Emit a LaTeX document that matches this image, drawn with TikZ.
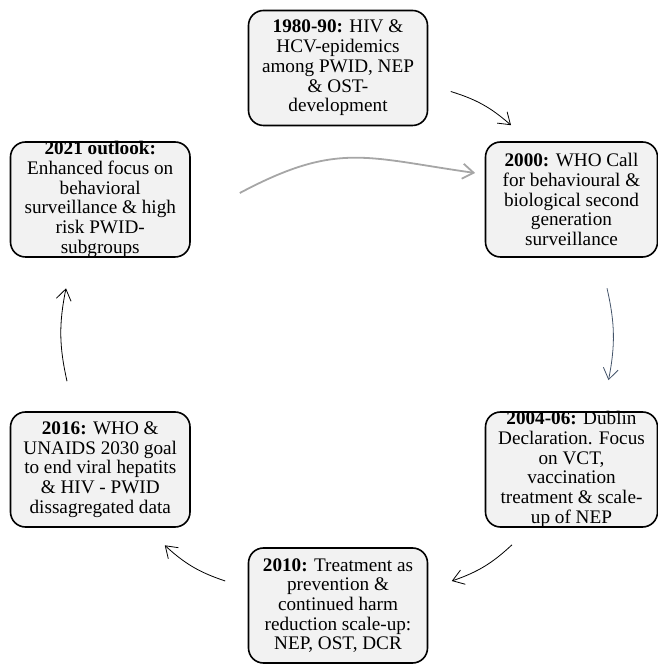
\documentclass[tikz,border=0pt]{standalone}
\usepackage{fontspec}
\setmainfont{Liberation Serif}
\usetikzlibrary{arrows.meta,positioning}

\definecolor{boxfill}{HTML}{F2F2F2}
\definecolor{slateline}{HTML}{44546A}
\definecolor{outlookline}{HTML}{A6A6A6}

\begin{document}
\begin{tikzpicture}[x=1pt, y=1pt,
    stage box/.style={draw, line width=1.6pt, rounded corners=15pt, fill=boxfill,
        minimum height=115pt, inner sep=0pt},
    stage text/.style={align=center, inner sep=0pt,
        font=\fontsize{19.2}{19.7}\selectfont},
    cycle arrow/.style={-{Straight Barb[length=11pt, width=15pt]}, line width=0.8pt}
]
    \useasboundingbox (0,0) rectangle (658,667);

    \node[stage box, minimum width=179pt,
        label={[stage text]center:{\textbf{1980-90:} HIV \&\\HCV-epidemics\\among PWID, NEP\\\& OST-\\development}}
    ] (stage 1980) at (338,599) {};

    \node[stage box, minimum width=172pt,
        label={[stage text]center:{\textbf{2000:} WHO Call\\for behavioural \&\\biological second\\generation\\surveillance}}
    ] (stage 2000) at (571.5,467.5) {};

    \node[stage box, minimum width=172pt,
        label={[stage text]center:{\textbf{2004-06:} Dublin\\Declaration. Focus\\on VCT,\\vaccination\\treatment \& scale-\\up of NEP}}
    ] (stage 2004) at (571.5,197.5) {};

    \node[stage box, minimum width=179pt,
        label={[stage text]center:{\textbf{2010:} Treatment as\\prevention \&\\continued harm\\reduction scale-up:\\NEP, OST, DCR}}
    ] (stage 2010) at (338,61.5) {};

    \node[stage box, minimum width=179.5pt,
        label={[stage text]center:{\textbf{2016:} WHO \&\\UNAIDS 2030 goal\\to end viral hepatits\\\& HIV - PWID\\dissagregated data}}
    ] (stage 2016) at (100.25,197.5) {};

    \node[stage box, minimum width=179.5pt,
        label={[stage text]center:{\textbf{2021 outlook:}\\Enhanced focus on\\behavioral\\surveillance \& high\\risk PWID-\\subgroups}}
    ] (stage 2021) at (100.25,467.5) {};

    \draw[cycle arrow] ([shift={(22.5,-23.5)}]stage 1980.east) to[bend left=12] ([shift={(-60.5,16)}]stage 2000.north);
    \draw[cycle arrow, slateline] ([shift={(35.5,-30.5)}]stage 2000.south) to[bend left=12] ([shift={(37,31)}]stage 2004.north);
    \draw[cycle arrow] ([shift={(-59.5,-17)}]stage 2004.south) to[bend left=12] ([shift={(23.5,24.5)}]stage 2010.east);
    \draw[cycle arrow] ([shift={(-22.5,24.5)}]stage 2010.west) to[bend left=12] ([shift={(64.5,-17.5)}]stage 2016.south);
    \draw[cycle arrow] ([shift={(-33.25,30)}]stage 2016.north) to[bend left=12] ([shift={(-34.25,-30.5)}]stage 2021.south);
    \draw[cycle arrow, outlookline, line width=1.8pt] ([shift={(49,6.5)}]stage 2021.east) to[out=28, in=172, looseness=1.2] ([shift={(-9.5,26.5)}]stage 2000.west);
\end{tikzpicture}
\end{document}
